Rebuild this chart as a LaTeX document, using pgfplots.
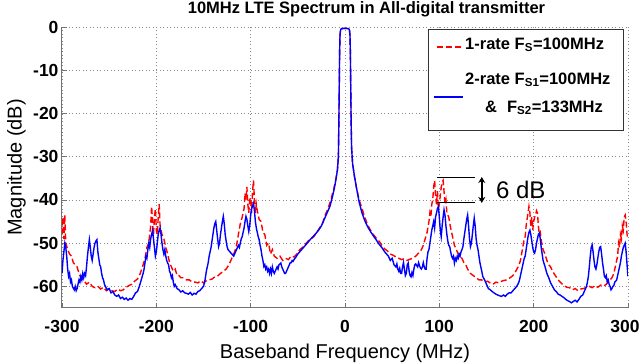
\documentclass[border=0pt]{standalone}
\usepackage{fontspec}
\setmainfont{Liberation Sans}
\usepackage{pgfplots}
\pgfplotsset{compat=1.18}
\usetikzlibrary{arrows.meta}
\definecolor{axgray}{gray}{0.45}
\definecolor{grd}{gray}{0.55}
\begin{document}
\begin{tikzpicture}
\begin{axis}[
  scale only axis, width=566pt, height=281pt,
  xmin=-300, xmax=300, ymin=-65, ymax=0,
  xtick={-300,-200,...,300}, ytick={-60,-50,...,0},
  xticklabels={-300,-200,-100,0,100,200,\hspace*{-6pt}300},
  axis x line*=bottom, axis y line*=left,
  axis line style={axgray, line width=1pt},
  tick align=inside, major tick length=5pt,
  tick style={axgray, line width=0.8pt},
  grid=major, major grid style={grd, line width=0.6pt, dash pattern=on 1pt off 2.5pt},
  /pgf/number format/assume math mode=true,
  ticklabel style={font=\fontsize{17.5}{17.5}\selectfont\bfseries},
  xticklabel style={yshift=-9pt},
  xlabel={Baseband Frequency (MHz)},
  ylabel={Magnitude (dB)},
  xlabel style={font=\fontsize{20}{20}\selectfont, at={(axis description cs:0.5,-0.16)}, anchor=center},
  ylabel style={font=\fontsize{20}{20}\selectfont, at={(axis description cs:-0.0805,0.5)}, anchor=center},
  title={10MHz LTE Spectrum in All-digital transmitter},
  title style={font=\fontsize{16.5}{16.5}\selectfont\bfseries, at={(axis description cs:0.538,1.0267)}, anchor=base, inner sep=0pt},
  clip=true,
]
\addplot[red, line width=1.4pt, dash pattern=on 6pt off 3pt] coordinates {
(-300,-48) (-299,-44) (-298,-49) (-297,-43.5) (-296,-50) (-294,-51.5) (-292,-52.5) (-290,-53) (-288,-54.5) (-286,-55) (-284,-55.5) (-282,-57) (-280,-58) (-277,-58.5) (-274,-59.5) (-271,-59) (-268,-60) (-265,-60.3) (-262,-60) (-259,-60.6) (-256,-60.2) (-253,-61) (-250,-60.5) (-247,-61) (-244,-61.2) (-241,-60.6) (-238,-61) (-235,-60.8) (-232,-60.2) (-229,-59.8) (-226,-59.5) (-223,-58.8) (-220,-58.3) (-217,-57) (-214,-55) (-212,-53.5) (-210,-51) (-208,-50) (-206,-46) (-205,-41.5) (-204,-45) (-203,-48) (-202,-44) (-201,-42) (-200,-47) (-199,-48) (-198,-44) (-197,-41) (-196,-46) (-195,-47) (-194,-48) (-192,-49) (-190,-51) (-188,-52.5) (-186,-54.5) (-184,-55.5) (-182,-56.5) (-180,-56) (-178,-57.5) (-176,-57.5) (-174,-58) (-171,-58) (-168,-58.5) (-165,-58.5) (-162,-59) (-159,-59) (-156,-59.2) (-153,-58.7) (-150,-59.2) (-147,-58.7) (-144,-58.5) (-141,-58.3) (-138,-57.8) (-135,-57.6) (-132,-57) (-129,-56.5) (-126,-56) (-123,-55) (-120,-53.5) (-117,-52) (-115,-50.5) (-113,-48) (-111,-45.5) (-109,-44) (-107,-42) (-106,-38.5) (-105,-40) (-104,-37) (-103,-41) (-102,-43) (-101,-40) (-100,-39.5) (-99,-43) (-98,-38) (-97,-35.5) (-96,-40) (-95,-43) (-94,-41) (-93,-42.5) (-91,-44.5) (-89,-45) (-87,-47.5) (-85,-48) (-83,-50.5) (-81,-50) (-79,-52.5) (-77,-51.5) (-75,-53) (-72,-53.5) (-69,-53) (-66,-54) (-63,-53.5) (-60,-53.8) (-57,-53) (-54,-53.2) (-51,-52.5) (-48,-51.5) (-45,-51) (-42,-50.2) (-39,-49.5) (-36,-49) (-33,-48.5) (-30,-47.5) (-27,-46.5) (-24,-45.5) (-21,-43.5) (-18,-42) (-15,-40) (-12,-37.5) (-10,-35.5) (-8,-33) (-7,-30) (-6.5,-22) (-6,-12) (-5.7,-6) (-5.3,-2) (-4.8,-0.8) (-4,-0.4) (0,-0.3) (4,-0.4) (4.8,-0.8) (5.3,-2) (5.7,-6) (6,-12) (6.5,-22) (7,-28) (8,-31.5) (10,-34.5) (12,-37) (15,-40) (18,-42) (21,-44) (24,-45.8) (27,-47) (30,-48) (33,-48.8) (36,-49.5) (39,-50.5) (42,-51.3) (45,-51.8) (48,-52.5) (51,-52.8) (54,-53.2) (57,-53.5) (60,-53.8) (63,-53.6) (66,-54) (69,-53.7) (72,-53.5) (75,-53) (78,-52.3) (81,-51.5) (83,-50.5) (85,-49) (87,-47.5) (89,-45) (90,-43) (91,-44) (92,-41) (93,-40) (94,-37) (95,-35.5) (96,-39) (97,-41) (98,-38) (99,-42) (100,-41) (101,-39) (102,-37) (103,-36) (104,-35.5) (105,-38) (106,-41) (107,-40) (108,-43) (110,-44) (112,-46.5) (114,-48.5) (116,-50.5) (118,-51.5) (120,-52.5) (122,-53) (124,-53.5) (126,-54.5) (128,-55) (130,-56) (133,-57) (136,-57.5) (139,-58) (142,-58.5) (145,-58.5) (148,-59) (151,-58.8) (154,-59.2) (157,-59.5) (160,-59) (163,-59.2) (166,-58.8) (169,-58.6) (172,-58.5) (175,-58) (178,-57.5) (181,-56.5) (184,-55.3) (186,-54) (188,-51.5) (190,-49) (191,-48.5) (192,-46) (193,-44.5) (194,-43) (195,-41.5) (196,-43) (197,-46) (198,-44) (199,-47) (200,-45) (201,-44) (202,-43.5) (203,-42.5) (204,-43) (205,-46) (206,-48) (207,-47.5) (208.5,-50) (210,-51.5) (212,-52.5) (214,-54) (216,-55) (218,-55.5) (220,-56.5) (223,-57.5) (226,-58.5) (229,-59.2) (232,-59.8) (235,-60.2) (238,-60.3) (241,-60.8) (244,-60.5) (247,-61) (250,-60.6) (253,-60.5) (256,-60.2) (259,-60) (262,-60.3) (265,-59.8) (268,-60.2) (271,-59.7) (274,-60) (277,-59.5) (279,-59) (281,-58.5) (283,-58) (285,-57) (287,-55) (289,-53) (290,-50) (291,-51) (292,-48) (293,-49) (294,-46) (295,-47) (296,-44) (297,-43.5) (298,-45) (299,-48) (300,-49)
};
\addplot[blue, line width=1.4pt] coordinates {
(-300,-57) (-299,-54) (-298,-52) (-297,-50) (-296,-51) (-295,-53) (-294,-56) (-293,-57.7) (-292,-57) (-291,-59) (-290,-58.5) (-289,-60) (-287,-60.8) (-286,-60) (-285,-61) (-284,-60.5) (-283,-59.5) (-282,-58.5) (-281,-59) (-280,-57.7) (-279,-58.5) (-278,-57) (-277,-58) (-276,-57) (-275,-57.5) (-274,-55.5) (-273,-53) (-272,-51) (-271,-49.2) (-270,-51) (-269,-53) (-268,-54) (-267,-52.5) (-266,-51) (-265,-50) (-264,-49.5) (-263,-49.2) (-262,-52) (-261,-53.5) (-260,-55) (-259,-55.5) (-258,-57) (-257,-58) (-256,-58.5) (-255,-59.5) (-254,-60) (-252,-60.8) (-250,-60.5) (-248,-61.5) (-246,-61.2) (-244,-62) (-242,-62.3) (-240,-62) (-238,-62.8) (-236,-62.5) (-234,-63) (-232,-62.7) (-230,-63.2) (-228,-62.8) (-226,-63) (-224,-62.3) (-222,-61.5) (-220,-61.2) (-218,-60) (-216,-58.5) (-214,-57) (-213,-56) (-212,-54.5) (-211,-53) (-210,-53.5) (-209,-51.5) (-208,-50) (-207,-51) (-206,-49) (-205,-48) (-204,-47) (-203,-49) (-202,-51) (-201,-53) (-200,-52) (-199,-50) (-198,-48) (-197,-47) (-196,-46.5) (-195,-48) (-194,-50) (-193,-51.5) (-192,-52.5) (-191,-51.5) (-190,-53) (-189,-54) (-188,-54.6) (-187,-55) (-186,-56.5) (-185,-57) (-184,-58) (-183,-57.5) (-182,-59) (-181,-60) (-180,-59.6) (-178,-60.5) (-176,-60.8) (-174,-61.3) (-172,-61) (-170,-61.5) (-168,-61.6) (-166,-61.8) (-164,-61.4) (-162,-62) (-160,-61.6) (-158,-61.8) (-156,-61.2) (-154,-61) (-152,-60.5) (-150,-60) (-149,-59.2) (-148,-58) (-147,-56.5) (-146,-55.5) (-145,-54.5) (-144,-53) (-143,-52) (-142,-51) (-141,-49.5) (-140,-48) (-139,-46.5) (-138,-45.5) (-137,-45) (-136,-47) (-135,-49) (-134,-50.8) (-133,-50) (-132,-48) (-131,-46.5) (-130,-45) (-129,-43.8) (-128,-45.5) (-127,-48) (-126,-49.5) (-125,-50.8) (-124,-51.5) (-122,-52) (-120,-52.5) (-118,-53) (-116,-52) (-115,-51.5) (-114,-51) (-113,-50.5) (-112,-51) (-111,-50) (-110,-49) (-109,-48.5) (-108,-47.5) (-107,-46.5) (-106,-45) (-105,-43.8) (-104,-44.5) (-103,-46) (-102,-47.3) (-101,-46) (-100,-43.5) (-99,-42) (-98,-41.5) (-97,-40.8) (-96,-42.5) (-95,-45) (-94,-46.5) (-93,-47.5) (-92,-48.5) (-91,-49.2) (-90,-50.5) (-89,-51.5) (-88,-53) (-87,-54) (-86,-55.4) (-85,-55) (-84,-56) (-83,-55.5) (-82,-56.5) (-81,-56) (-80,-57) (-79,-56) (-78,-57) (-77,-55.5) (-76,-56.5) (-75,-57) (-74,-56.5) (-73,-56) (-72,-55.5) (-71,-56) (-70,-55) (-69,-54.8) (-68,-54.6) (-67,-55.5) (-66,-56) (-65,-56.5) (-64,-57) (-63,-57) (-62,-56.5) (-61,-56) (-60,-55.5) (-59,-55) (-58,-54.5) (-57,-54.5) (-56,-54) (-55,-54.2) (-54,-53.8) (-52,-53.2) (-50,-52.5) (-48,-52) (-46,-51.5) (-44,-51) (-42,-50.5) (-40,-50) (-37,-49.2) (-34,-48.5) (-31,-47.8) (-28,-47) (-25,-46) (-22,-44.5) (-19,-43) (-16,-41.5) (-13,-39) (-11,-37) (-9,-34.5) (-8,-33) (-7,-30) (-6.5,-22) (-6,-12) (-5.7,-6) (-5.3,-2) (-4.8,-0.8) (-4,-0.4) (0,-0.3) (4,-0.4) (4.8,-0.8) (5.3,-2) (5.7,-6) (6,-12) (6.5,-22) (7,-28) (8,-31.5) (10,-34.5) (12,-37) (15,-40.5) (18,-43) (21,-44.8) (24,-46.2) (27,-47.3) (30,-48.3) (33,-49.2) (36,-50.2) (39,-51) (42,-52) (44,-52.5) (46,-53) (48,-54) (50,-53.5) (52,-55) (54,-55.5) (55,-54.8) (56,-56) (57,-56.5) (58,-55.8) (59,-57) (60,-57) (61,-55.5) (62,-54.5) (63,-56) (64,-57.5) (65,-57) (66,-55) (67,-54.6) (68,-56.5) (69,-57.5) (70,-57.8) (71,-56.8) (72,-57.5) (73,-56) (74,-55) (75,-54.8) (76,-55.2) (77,-55.5) (78,-54.5) (79,-55.2) (80,-55.8) (81,-56) (82,-55.5) (83,-54.5) (84,-55.5) (85,-56) (86,-56) (87,-53.5) (88,-52) (89,-51.5) (90,-50) (91,-48.5) (92,-47) (93,-46) (94,-45) (95,-46.5) (96,-44) (97,-43) (98,-42) (99,-41.5) (100,-44) (101,-47) (102,-48.5) (103,-46) (104,-44) (105,-42.3) (106,-43.5) (107,-46) (108,-48) (109,-49.5) (110,-50.5) (111,-50.8) (112,-52) (113,-53) (114,-53.5) (115,-53) (116,-54.6) (117,-53.5) (118,-54) (119,-53) (120,-53.5) (121,-52.5) (122,-53) (123,-52) (124,-51.5) (125,-50.8) (126,-49) (127,-47.5) (128,-46) (129,-44.5) (130,-43.5) (131,-46) (132,-49) (133,-50.8) (134,-50) (135,-48) (136,-46) (137,-44.2) (138,-46) (139,-49) (140,-50.5) (141,-51.5) (142,-53) (143,-54.5) (144,-55.5) (145,-56.5) (146,-57.7) (148,-58.5) (150,-59.5) (152,-60.5) (154,-60.8) (156,-61.2) (158,-61.5) (160,-61.8) (162,-62) (164,-62.2) (166,-62.3) (168,-62) (170,-62.3) (172,-61.8) (174,-61.5) (176,-61.5) (178,-61) (180,-60.5) (182,-60) (184,-59.2) (185,-58.5) (186,-57.5) (187,-56.5) (188,-55.5) (189,-54.5) (190,-53.5) (191,-53) (192,-51.5) (193,-50) (194,-48.5) (195,-47.5) (196,-47) (197,-48) (198,-49.5) (199,-51) (200,-52) (201,-52.3) (202,-51.5) (203,-50) (204,-49) (205,-48) (206,-47.7) (207,-49) (208,-51) (209,-52.5) (210,-54) (212,-55.4) (214,-57) (216,-58) (218,-59.2) (220,-60) (222,-60.8) (224,-61.2) (226,-61.8) (228,-62) (230,-62.3) (232,-62.6) (234,-63) (236,-63.3) (238,-63.5) (240,-63.8) (242,-63.5) (244,-63.2) (246,-63.6) (248,-63) (250,-62.3) (252,-62) (254,-61) (256,-60) (257,-59) (258,-57.7) (259,-55.5) (260,-53) (261,-51) (262,-50.4) (263,-52) (264,-54) (265,-55.5) (266,-56) (267,-55) (268,-53.5) (269,-52) (270,-51) (271,-50.8) (272,-52.5) (273,-54.5) (274,-56) (275,-57.7) (276,-58) (277,-57.5) (278,-59) (279,-58.5) (280,-59.5) (281,-60) (282,-60.8) (283,-60.5) (284,-60) (285,-59.8) (286,-59) (287,-58.8) (288,-58.5) (289,-57.5) (290,-56.5) (291,-55.5) (292,-54.5) (293,-53) (294,-52) (295,-51) (296,-50.5) (297,-50) (298,-52) (299,-55) (300,-57.7)
};
% 6 dB annotation
\draw[black, line width=0.9pt] (axis cs:98,-34.7) -- (axis cs:138,-34.7);
\draw[black, line width=0.9pt] (axis cs:98,-40.7) -- (axis cs:138,-40.7);
\draw[black, line width=1.6pt, {Stealth[length=6pt,width=7pt]}-{Stealth[length=6pt,width=7pt]}] (axis cs:145,-34.7) -- (axis cs:145,-40.7);
\node[font=\fontsize{24}{24}\selectfont, anchor=west, inner sep=0pt] at (axis cs:160,-37.6) {6 dB};
\end{axis}
% legend
\begin{scope}[shift={(current axis.south west)}]
\draw[black!80, line width=0.8pt, fill=white] (366pt,178pt) rectangle (561pt,279pt);
\draw[red, line width=1.4pt, dash pattern=on 6pt off 3pt] (375pt,261pt) -- (401pt,261pt);
\draw[blue, line width=1.4pt] (372pt,211pt) -- (401pt,211pt);
\node[anchor=west, inner sep=0pt, font=\fontsize{16.5}{16.5}\selectfont\bfseries] at (403pt,263pt) {1-rate F\textsubscript{S}=100MHz};
\node[anchor=west, inner sep=0pt, font=\fontsize{16.5}{16.5}\selectfont\bfseries] at (403pt,228pt) {2-rate F\textsubscript{S1}=100MHz};
\node[anchor=west, inner sep=0pt, font=\fontsize{16.5}{16.5}\selectfont\bfseries] at (423pt,200pt) {\&\hspace{10pt}F\textsubscript{S2}=133MHz};
\pgfresetboundingbox
\path (-62pt,-56pt) rectangle (579pt,308pt);
\end{scope}
\end{tikzpicture}
\end{document}
